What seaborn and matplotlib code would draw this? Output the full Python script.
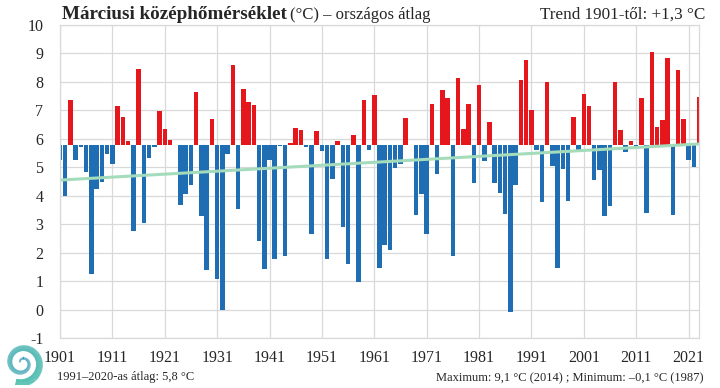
import matplotlib
matplotlib.use('Agg')
import matplotlib.pyplot as plt
from matplotlib.collections import LineCollection
import seaborn as sns
import pandas as pd
import numpy as np

# March mean temperature, national average (°C), 1901-2023
years = list(range(1901, 2024))
march_temp = [
    5.27, 4.00, 7.36, 5.25, 5.72, 4.84, 1.26, 4.25, 4.49, 5.48,   # 1901-1910
    5.11, 7.15, 6.77, 5.93, 2.76, 8.44, 3.05, 5.31, 5.72, 6.98,   # 1911-1920
    6.36, 5.95, 5.80, 3.69, 4.07, 4.37, 7.65, 3.29, 1.40, 6.69,   # 1921-1930
    1.09, -0.03, 5.48, 8.59, 3.53, 7.75, 7.30, 7.18, 2.41, 1.44,  # 1931-1940
    5.27, 1.78, 5.74, 1.87, 5.85, 6.39, 6.30, 5.70, 2.65, 6.28,   # 1941-1950
    5.58, 1.78, 4.60, 5.93, 2.89, 1.59, 6.13, 0.97, 7.35, 5.62,   # 1951-1960
    7.55, 1.45, 2.26, 2.08, 4.98, 5.13, 6.74, 5.80, 3.34, 4.07,   # 1961-1970
    2.67, 7.21, 4.78, 7.72, 7.45, 1.87, 8.14, 6.34, 7.23, 4.43,   # 1971-1980
    7.88, 5.21, 6.60, 4.43, 4.10, 3.37, -0.08, 4.37, 8.05, 8.77,  # 1981-1990
    7.01, 5.60, 3.78, 7.98, 5.04, 1.46, 4.93, 3.82, 6.77, 5.60,   # 1991-2000
    7.59, 7.15, 4.57, 4.90, 3.29, 3.64, 7.98, 6.30, 5.54, 5.93,   # 2001-2010
    5.71, 7.45, 3.41, 9.06, 6.42, 6.66, 8.83, 3.32, 8.42, 6.69,   # 2011-2020
    5.25, 5.02, 7.48,                                             # 2021-2023
]
BASE = 5.8  # 1991-2020 average

# linear trend end points
trend_years = [1901, 2023]
trend_vals = [4.55, 5.82]

x_ticks = list(range(1901, 2022, 10))
y_ticks = list(range(-1, 11))

RED = '#e5161c'
BLUE = '#1f6db3'
TREND = '#a3dbbb'

df = pd.DataFrame({'year': years, 'temp': march_temp})
df['dev'] = df['temp'] - BASE
df['sign'] = np.where(df['dev'] > 0, 'above', 'below')

sns.set_style('whitegrid', {'grid.color': '#d9d9d9', 'axes.edgecolor': '#d9d9d9'})
plt.rcParams['font.family'] = ['Liberation Serif', 'DejaVu Serif']

W, H = 720, 388
fig = plt.figure(figsize=(W / 100, H / 100), dpi=100)
ax = fig.add_axes([60 / W, 1 - 338 / H, 639 / W, 313 / H])

sns.barplot(data=df, x='year', y='dev', hue='sign',
            palette={'above': RED, 'below': BLUE},
            native_scale=True, width=0.86, errorbar=None,
            saturation=1, linewidth=0, legend=False, ax=ax)
sns.lineplot(x=trend_years, y=np.array(trend_vals) - BASE,
             color=TREND, linewidth=2.2, ax=ax)

ax.set_xlim(1901, 2023)
ax.set_ylim(-1 - BASE, 10 - BASE)
ax.set_xticks(x_ticks)
ax.set_xticklabels([str(y) for y in x_ticks], fontsize=11.5)
ax.set_yticks([v - BASE for v in y_ticks])
ax.set_yticklabels([str(v) for v in y_ticks], fontsize=11.5)
ax.tick_params(axis='both', length=0)
ax.tick_params(axis='y', pad=12)
ax.tick_params(axis='x', pad=9)
ax.set_xlabel('')
ax.set_ylabel('')
ax.grid(True, color='#d9d9d9', linewidth=0.9)
for s in ax.spines.values():
    s.set_color('#d9d9d9')
    s.set_linewidth(0.9)

# titles
t1 = fig.text(62 / W, 1 - 19 / H, 'Márciusi középhőmérséklet', fontsize=13.8,
              fontweight='bold', ha='left', va='baseline')
fig.canvas.draw()
bb = t1.get_window_extent()
fig.text((bb.x1 + 3) / W, 1 - 19 / H, '(°C) – országos átlag', fontsize=12,
         ha='left', va='baseline')
fig.text(705 / W, 1 - 19 / H, 'Trend 1901-től: +1,3 °C', fontsize=12.3,
         ha='right', va='baseline')

# footer
fig.text(57 / W, 1 - 380 / H, '1991–2020-as átlag: 5,8 °C', fontsize=9,
         ha='left', va='baseline')
fig.text(703 / W, 1 - 381 / H, 'Maximum: 9,1 °C (2014) ; Minimum: –0,1 °C (1987)',
         fontsize=9, ha='right', va='baseline')

# rough spiral logo
lax = fig.add_axes([0 / W, 0 / H, 44 / W, 50 / H])
theta = np.linspace(0.3, 3.6 * np.pi, 300)
r = 0.08 + 0.9 * theta / theta.max()
px = r * np.cos(-theta + np.pi)
py = r * np.sin(-theta + np.pi)
pts = np.column_stack([px, py]).reshape(-1, 1, 2)
segs = np.concatenate([pts[:-1], pts[1:]], axis=1)
lc = LineCollection(segs, linewidths=np.linspace(1.0, 5.5, len(segs)),
                    colors=sns.blend_palette(['#2a8fb8', '#35b6a2'], len(segs)))
lax.add_collection(lc)
lax.set_xlim(-1.05, 1.05)
lax.set_ylim(-1.05, 1.05)
lax.set_aspect('equal')
lax.axis('off')

fig.savefig('out.png', dpi=100)
